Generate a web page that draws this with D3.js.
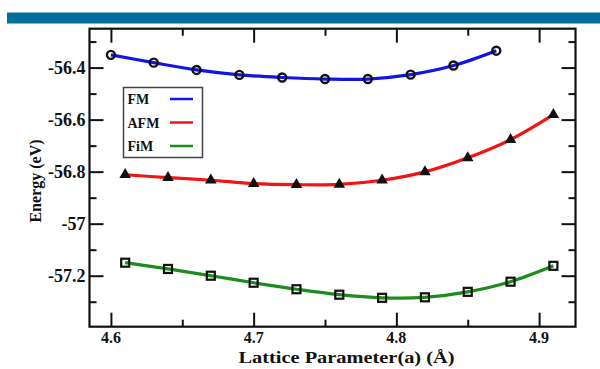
<!DOCTYPE html>
<html>
<head>
<meta charset="utf-8">
<script src="https://cdn.jsdelivr.net/npm/d3@7"></script>
<style>
  html, body { margin: 0; padding: 0; background: #fff; }
  svg { display: block; }
</style>
</head>
<body>
<svg id="chart" width="600" height="369"></svg>
<script>
// Lattice parameter (Å) for each magnetic configuration
const fmLattice  = [4.60, 4.63, 4.66, 4.69, 4.72, 4.75, 4.78, 4.81, 4.84, 4.87];
const fmEnergy   = [-56.351, -56.381, -56.409, -56.428, -56.438, -56.444, -56.444, -56.427, -56.392, -56.335];

const afmLattice = [4.61, 4.64, 4.67, 4.70, 4.73, 4.76, 4.79, 4.82, 4.85, 4.88, 4.91];
const afmEnergy  = [-56.812, -56.823, -56.833, -56.846, -56.850, -56.849, -56.833, -56.801, -56.747, -56.677, -56.581];

const fimLattice = [4.61, 4.64, 4.67, 4.70, 4.73, 4.76, 4.79, 4.82, 4.85, 4.88, 4.91];
const fimEnergy  = [-57.150, -57.174, -57.200, -57.227, -57.252, -57.273, -57.285, -57.283, -57.262, -57.223, -57.162];

const seriesNames = ["FM", "AFM", "FiM"];
const xTickValues = [4.6, 4.7, 4.8, 4.9];
const yTickValues = [-57.2, -57, -56.8, -56.6, -56.4];
const xTitle = "Lattice Parameter(a) (Å)";
const yTitle = "Energy (eV)";

const FONT = "'Liberation Serif', Tinos, 'Times New Roman', Times, 'DejaVu Serif', serif";

const svg = d3.select("#chart");

function label(sel) {
  return sel.attr("font-family", FONT).attr("font-weight", "bold").attr("fill", "#111");
}

// Header band
svg.append("rect").attr("x", 7).attr("y", 12.5).attr("width", 593).attr("height", 11)
  .attr("fill", "#006e9b");
svg.append("line").attr("x1", 7).attr("x2", 600).attr("y1", 12.5).attr("y2", 12.5)
  .attr("stroke", "#7fb6cf").attr("stroke-width", 0.8);

const plot = { left: 89.5, right: 575.5, top: 28.7, bottom: 326.7 };

const x = d3.scaleLinear().domain([4.585, 4.9255]).range([plot.left, plot.right]);
const y = d3.scaleLinear().domain([-57.396, -56.2505]).range([plot.bottom, plot.top]);

const majorLen = 14, minorLen = 7;
const xMinor = d3.range(4.65, 4.925, 0.1);
const yMinor = d3.range(-57.3, -56.25, 0.2);

// Inward ticks on all four sides
function addAxis(gen, transform, values, len) {
  const g = svg.append("g").attr("transform", transform)
    .call(gen.tickValues(values).tickSizeInner(len).tickSizeOuter(0).tickFormat(""));
  g.select(".domain").remove();
  g.selectAll(".tick line").attr("stroke", "#111").attr("stroke-width", 2);
  return g;
}
addAxis(d3.axisTop(x), `translate(0,${plot.bottom})`, xTickValues, majorLen);
addAxis(d3.axisTop(x), `translate(0,${plot.bottom})`, xMinor, minorLen);
addAxis(d3.axisBottom(x), `translate(0,${plot.top})`, xTickValues, majorLen);
addAxis(d3.axisBottom(x), `translate(0,${plot.top})`, xMinor, minorLen);
addAxis(d3.axisRight(y), `translate(${plot.left},0)`, yTickValues, majorLen);
addAxis(d3.axisRight(y), `translate(${plot.left},0)`, yMinor, minorLen);
addAxis(d3.axisLeft(y), `translate(${plot.right},0)`, yTickValues, majorLen);
addAxis(d3.axisLeft(y), `translate(${plot.right},0)`, yMinor, minorLen);

// Tick labels
svg.append("g").selectAll("text").data(xTickValues).join("text")
  .call(label)
  .attr("x", d => x(d)).attr("y", plot.bottom + 16)
  .attr("text-anchor", "middle").attr("font-size", 16)
  .text(d => d3.format(".1f")(d));
svg.append("g").selectAll("text").data(yTickValues).join("text")
  .call(label)
  .attr("x", plot.left - 4).attr("y", d => y(d) + 6)
  .attr("text-anchor", "end").attr("font-size", 18)
  .text(d => d === -57 ? "-57" : d3.format(".1f")(d).replace("−", "-"));

// Frame
svg.append("rect").attr("x", plot.left).attr("y", plot.top)
  .attr("width", plot.right - plot.left).attr("height", plot.bottom - plot.top)
  .attr("fill", "none").attr("stroke", "#111").attr("stroke-width", 2.2);

// Axis titles (x title is drawn slightly wide)
svg.append("text").call(label).attr("x", 346.5).attr("y", 363).attr("text-anchor", "middle")
  .attr("font-size", 16.5).attr("textLength", 216).attr("lengthAdjust", "spacingAndGlyphs")
  .text(xTitle);
svg.append("text").call(label).attr("transform", "translate(41,181) rotate(-90)")
  .attr("text-anchor", "middle").attr("font-size", 16).text(yTitle);

// Curves
const series = [
  { name: seriesNames[0], xs: fmLattice,  ys: fmEnergy,  color: "#1414e6", marker: "circle" },
  { name: seriesNames[1], xs: afmLattice, ys: afmEnergy, color: "#f01414", marker: "triangle" },
  { name: seriesNames[2], xs: fimLattice, ys: fimEnergy, color: "#1c8c1c", marker: "square" }
];

const line = d3.line().x(d => x(d[0])).y(d => y(d[1])).curve(d3.curveCatmullRom.alpha(0.5));

series.forEach(s => {
  const pts = s.xs.map((v, i) => [v, s.ys[i]]);
  svg.append("path").datum(pts).attr("d", line)
    .attr("fill", "none").attr("stroke", s.color).attr("stroke-width", 3.2);

  const g = svg.append("g");
  if (s.marker === "circle") {
    g.selectAll("circle").data(pts).join("circle")
      .attr("cx", d => x(d[0])).attr("cy", d => y(d[1])).attr("r", 4)
      .attr("fill", "none").attr("stroke", "#111").attr("stroke-width", 2.4);
  } else if (s.marker === "triangle") {
    const tri = d3.symbol().type(d3.symbolTriangle).size(58);
    g.selectAll("path").data(pts).join("path")
      .attr("d", tri).attr("transform", d => `translate(${x(d[0])},${y(d[1])})`)
      .attr("fill", "#111");
  } else {
    g.selectAll("rect").data(pts).join("rect")
      .attr("x", d => x(d[0]) - 4).attr("y", d => y(d[1]) - 4)
      .attr("width", 8).attr("height", 8)
      .attr("fill", "none").attr("stroke", "#111").attr("stroke-width", 2.2);
  }
});

// Legend
const legend = svg.append("g");
legend.append("rect").attr("x", 123.5).attr("y", 87.5).attr("width", 79).attr("height", 70)
  .attr("fill", "#fff").attr("stroke", "#444").attr("stroke-width", 1.5);
series.forEach((s, i) => {
  const yy = 99 + i * 23.5;
  legend.append("text").call(label).attr("x", 127.5).attr("y", yy + 5)
    .attr("font-size", 14).text(s.name);
  legend.append("line").attr("x1", 170).attr("x2", 193).attr("y1", yy).attr("y2", yy)
    .attr("stroke", s.color).attr("stroke-width", 2.5);
});
</script>
</body>
</html>
